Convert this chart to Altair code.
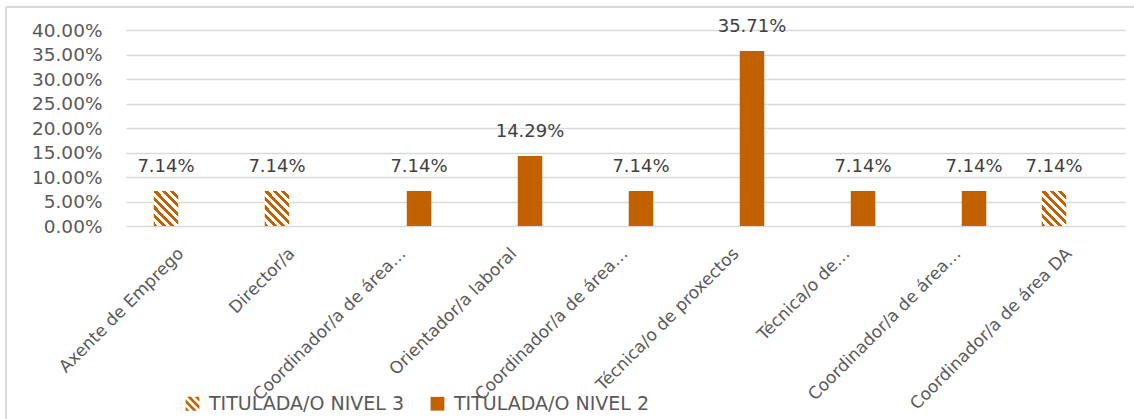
import altair as alt
import pandas as pd

# Job titles (shortened the way they appear on the axis)
categories = [
    "Axente de Emprego",
    "Director/a",
    "Coordinador/a de área…",
    "Orientador/a laboral",
    "Coordinador/a de área…",
    "Técnica/o de proxectos",
    "Técnica/o de…",
    "Coordinador/a de área…",
    "Coordinador/a de área DA",
]
series_names = ["TITULADA/O NIVEL 3", "TITULADA/O NIVEL 2"]
bar_series = [
    "TITULADA/O NIVEL 3",
    "TITULADA/O NIVEL 3",
    "TITULADA/O NIVEL 2",
    "TITULADA/O NIVEL 2",
    "TITULADA/O NIVEL 2",
    "TITULADA/O NIVEL 2",
    "TITULADA/O NIVEL 2",
    "TITULADA/O NIVEL 2",
    "TITULADA/O NIVEL 3",
]
shares = [0.0714, 0.0714, 0.0714, 0.1429, 0.0714, 0.3571, 0.0714, 0.0714, 0.0714]
y_ticks = [0, 0.05, 0.10, 0.15, 0.20, 0.25, 0.30, 0.35, 0.40]

ORANGE = "#C16100"
GRID = "#D9D9D9"
TEXT = "#595959"
FONT = "DejaVu Sans"


def hatch(periods, x2, y2):
    """Diagonal stripe fill built from a hard-edged linear gradient."""
    stops = []
    for i in range(periods):
        a, b, c = i / periods, (i + 0.5) / periods, (i + 1) / periods
        stops += [
            {"offset": a, "color": ORANGE},
            {"offset": b, "color": ORANGE},
            {"offset": b, "color": "white"},
            {"offset": c, "color": "white"},
        ]
    return {"gradient": "linear", "x1": 0, "y1": 1, "x2": x2, "y2": y2, "stops": stops}


def clip(poly, a, b, c):
    """Keep the part of a polygon where a*x + b*y <= c."""
    out = []
    n = len(poly)
    for i in range(n):
        p, q = poly[i], poly[(i + 1) % n]
        fp = a * p[0] + b * p[1] - c
        fq = a * q[0] + b * q[1] - c
        if fp <= 0:
            out.append(p)
        if (fp < 0 < fq) or (fq < 0 < fp):
            t = fp / (fp - fq)
            out.append((p[0] + t * (q[0] - p[0]), p[1] + t * (q[1] - p[1])))
    return out


def stripe_symbol(bands):
    """SVG path of diagonal stripes inside the unit legend square."""
    square = [(-1, -1), (1, -1), (1, 1), (-1, 1)]
    parts = []
    for lo, hi in bands:
        poly = clip(clip(square, 1, -1, hi), -1, 1, -lo)
        if len(poly) >= 3:
            pts = " L".join(f"{x:.3f},{y:.3f}" for x, y in poly)
            parts.append("M" + pts + " Z")
    return " ".join(parts)


BAR_HATCH = hatch(7, 0.80, -0.14)
KEY_STRIPES = stripe_symbol([(-2.0, -1.45), (-0.9, -0.35), (0.2, 0.75), (1.3, 1.85)])

df = pd.DataFrame(
    {
        "idx": list(range(len(categories))),
        "series": bar_series,
        "share": shares,
    }
)

label_array = "[" + ",".join("'" + c + "'" for c in categories) + "]"

x_enc = alt.X(
    "idx:O",
    scale=alt.Scale(paddingInner=0, paddingOuter=0),
    axis=alt.Axis(
        title=None,
        labelExpr=label_array + "[datum.value]",
        labelAngle=-45,
        labelFontSize=17,
        labelFont=FONT,
        labelColor=TEXT,
        labelPadding=19,
        labelOffset=-6,
        labelLimit=400,
        domain=False,
        ticks=False,
        grid=False,
    ),
)
xoff_enc = alt.XOffset(
    "series:N",
    scale=alt.Scale(domain=series_names, paddingInner=0.21, paddingOuter=0.895),
)
y_enc = alt.Y(
    "share:Q",
    scale=alt.Scale(domain=[0, 0.40], nice=False),
    axis=alt.Axis(
        title=None,
        format=".2%",
        values=y_ticks,
        labelFontSize=18.5,
        labelFont=FONT,
        labelColor=TEXT,
        labelPadding=24,
        domain=False,
        ticks=False,
        gridColor=GRID,
        gridWidth=1.5,
    ),
)

bars = alt.Chart(df).mark_bar().encode(
    x=x_enc,
    xOffset=xoff_enc,
    y=y_enc,
    fill=alt.condition(
        alt.datum.series == "TITULADA/O NIVEL 3",
        alt.value(BAR_HATCH),
        alt.value(ORANGE),
    ),
)

# Invisible points that carry the series key (striped vs. solid swatch)
key = alt.Chart(df).mark_point(filled=True, opacity=0, color=ORANGE, size=1).encode(
    x=x_enc,
    xOffset=xoff_enc,
    y=y_enc,
    shape=alt.Shape(
        "series:N",
        scale=alt.Scale(domain=series_names, range=[KEY_STRIPES, "square"]),
        legend=alt.Legend(
            title=None,
            orient="none",
            legendX=57,
            legendY=364,
            direction="horizontal",
            symbolSize=190,
            symbolOpacity=1,
            symbolFillColor=ORANGE,
            symbolStrokeWidth=0,
            labelFontSize=19,
            labelFont=FONT,
            labelColor=TEXT,
            labelOffset=7,
            labelLimit=400,
            columnPadding=24,
        ),
    ),
)

labels = alt.Chart(df).mark_text(
    fontSize=18, font=FONT, color="#404040", baseline="alphabetic", dy=-19
).encode(
    x=x_enc,
    xOffset=xoff_enc,
    y=y_enc,
    text=alt.Text("share:Q", format=".2%"),
)

# Chart frame: top and left edges of the outer border
frame_src = alt.Data(values=[{"k": 0}])
frame_top = alt.Chart(frame_src).mark_rule(color=GRID, strokeWidth=2).encode(
    x=alt.value(-120), x2=alt.value(1010), y=alt.value(-23)
)
frame_left = alt.Chart(frame_src).mark_rule(color=GRID, strokeWidth=2).encode(
    x=alt.value(-120), y=alt.value(-23), y2=alt.value(392)
)

chart = (
    alt.layer(frame_top, frame_left, bars, key, labels)
    .properties(
        width=999,
        height=196,
        autosize=alt.AutoSizeParams(type="none"),
        padding={"left": 126, "top": 30, "right": 9, "bottom": 193},
        background="white",
    )
    .configure_view(stroke=None)
)

chart.save("out.html", embed_options={"renderer": "svg", "actions": False})
